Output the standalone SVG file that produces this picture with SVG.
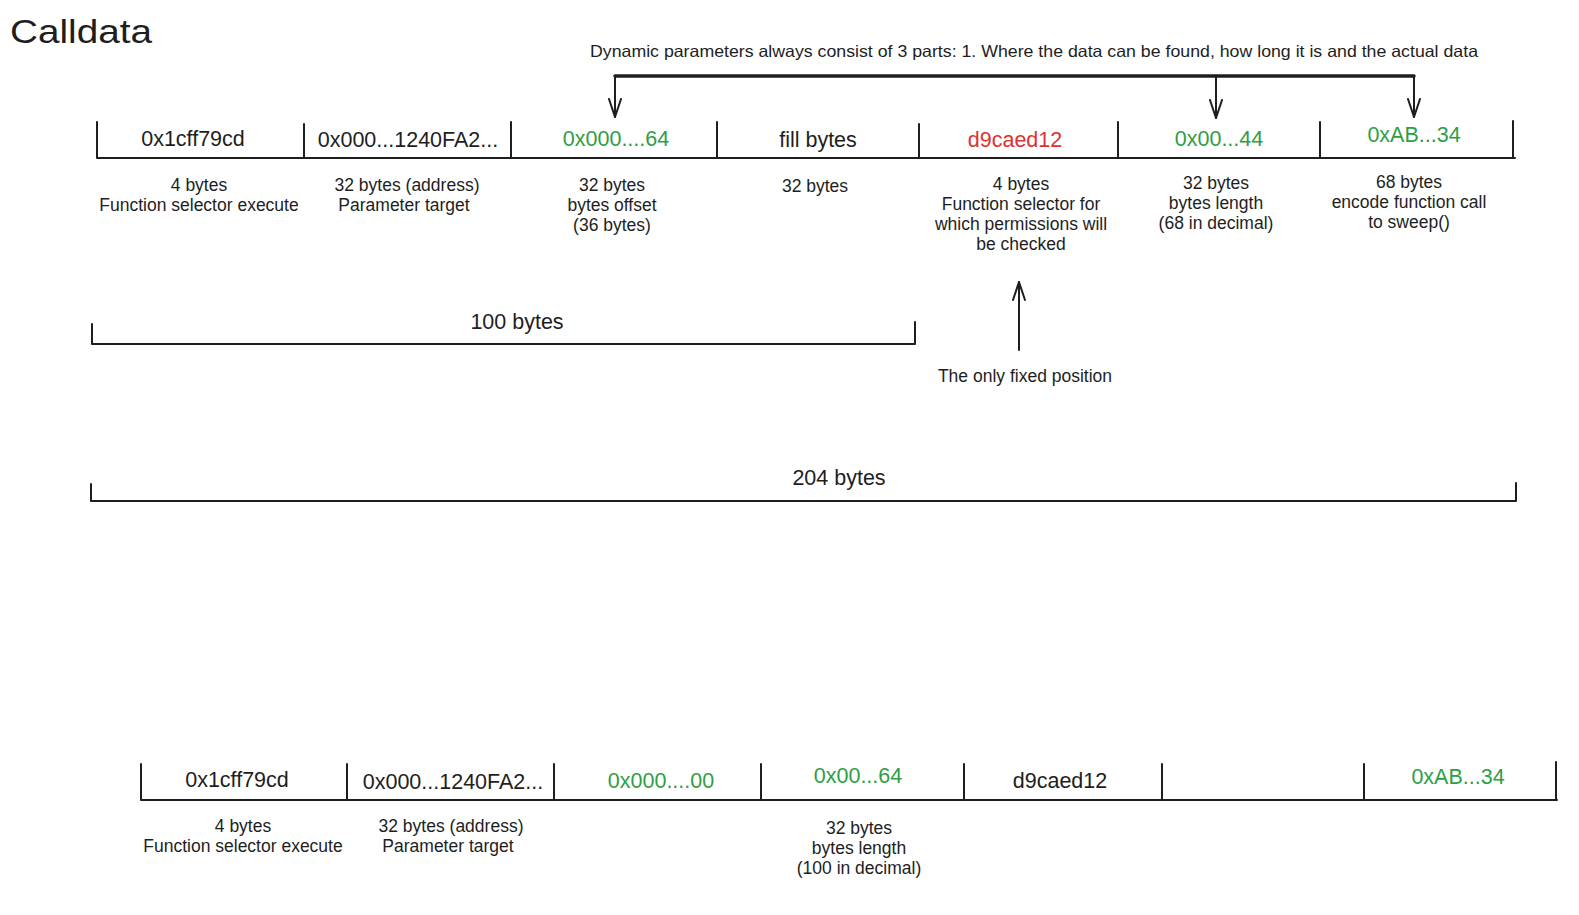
<svg xmlns="http://www.w3.org/2000/svg" width="1579" height="915" viewBox="0 0 1579 915">
<defs>
<style>
text{font-family:"Liberation Sans","DejaVu Sans",sans-serif;fill:#1e1e1e;text-anchor:middle}
.cell{font-size:21.5px}
.lbl{font-size:17.5px}
.g{fill:#2f9e44}
.r{fill:#e03131}
.ln{stroke:#1e1e1e;stroke-width:2;fill:none;stroke-linecap:round;stroke-linejoin:round}
.thick{stroke-width:3.5}
</style>
<marker id="ah" viewBox="0 0 20 20" refX="19" refY="10" markerWidth="20" markerHeight="20" markerUnits="userSpaceOnUse" orient="auto">
<path d="M1 4 L19 10 L1 16" fill="none" stroke="#1e1e1e" stroke-width="2" stroke-linecap="round" stroke-linejoin="round"/>
</marker>
</defs>
<rect width="1579" height="915" fill="#ffffff"/>
<text x="10" y="43" style="font-size:34px;text-anchor:start" textLength="142" lengthAdjust="spacingAndGlyphs">Calldata</text>

<g id="note-dynamic">
<text x="1034" y="57" style="font-size:16.5px" textLength="888" lengthAdjust="spacingAndGlyphs">Dynamic parameters always consist of 3 parts: 1. Where the data can be found, how long it is and the actual data</text>
</g>

<g id="row1">
<path class="ln" d="M97 122 V158 H1515 M304 124 V158 M511 122 V158 M717 122 V158 M919 124 V158 M1118 122 V158 M1320 122 V158 M1513 121 V158"/>
</g>
<g id="r1c1"><text class="cell" x="193" y="146">0x1cff79cd</text>
<text class="lbl" x="199" y="191">4 bytes</text><text class="lbl" x="199" y="211">Function selector execute</text></g>
<g id="r1c2"><text class="cell" x="408" y="147">0x000...1240FA2...</text>
<text class="lbl" x="407" y="191">32 bytes (address)</text><text class="lbl" x="404" y="211">Parameter target</text></g>
<g id="r1c3"><text class="cell g" x="616" y="146">0x000....64</text>
<text class="lbl" x="612" y="191">32 bytes</text><text class="lbl" x="612" y="211">bytes offset</text><text class="lbl" x="612" y="231">(36 bytes)</text></g>
<g id="r1c4"><text class="cell" x="818" y="147">fill bytes</text>
<text class="lbl" x="815" y="192">32 bytes</text></g>
<g id="r1c5"><text class="cell r" x="1015" y="147">d9caed12</text>
<text class="lbl" x="1021" y="190">4 bytes</text><text class="lbl" x="1021" y="210">Function selector for</text><text class="lbl" x="1021" y="230">which permissions will</text><text class="lbl" x="1021" y="250">be checked</text></g>
<g id="r1c6"><text class="cell g" x="1219" y="146">0x00...44</text>
<text class="lbl" x="1216" y="189">32 bytes</text><text class="lbl" x="1216" y="209">bytes length</text><text class="lbl" x="1216" y="229">(68 in decimal)</text></g>
<g id="r1c7"><text class="cell g" x="1414" y="142">0xAB...34</text>
<text class="lbl" x="1409" y="188">68 bytes</text><text class="lbl" x="1409" y="208">encode function call</text><text class="lbl" x="1409" y="228">to sweep()</text></g>

<g id="bracket-100"><path class="ln" d="M92 324 V344 H915 V322"/><text class="cell" x="517" y="329">100 bytes</text></g>
<g id="bracket-204"><path class="ln" d="M91 484 V501 H1516 V483"/><text class="cell" x="839" y="485">204 bytes</text></g>
<g id="note-fixed"><text class="lbl" x="1025" y="382">The only fixed position</text></g>

<g id="connectors">
<path class="ln thick" d="M615 76 H1414"/>
<path class="ln" d="M615 76 V117" marker-end="url(#ah)"/>
<path class="ln" d="M1216 76 V118" marker-end="url(#ah)"/>
<path class="ln" d="M1414 76 V117" marker-end="url(#ah)"/>
<path class="ln" d="M1019 350 V282" marker-end="url(#ah)"/>
</g>

<g id="row2">
<path class="ln" d="M141 764 V800 H1557 M347 764 V800 M554 764 V800 M761 764 V800 M964 764 V800 M1162 764 V800 M1364 764 V800 M1556 762 V800"/>
</g>
<g id="r2c1"><text class="cell" x="237" y="787">0x1cff79cd</text>
<text class="lbl" x="243" y="832">4 bytes</text><text class="lbl" x="243" y="852">Function selector execute</text></g>
<g id="r2c2"><text class="cell" x="453" y="789">0x000...1240FA2...</text>
<text class="lbl" x="451" y="832">32 bytes (address)</text><text class="lbl" x="448" y="852">Parameter target</text></g>
<g id="r2c3"><text class="cell g" x="661" y="788">0x000....00</text></g>
<g id="r2c4"><text class="cell g" x="858" y="783">0x00...64</text>
<text class="lbl" x="859" y="834">32 bytes</text><text class="lbl" x="859" y="854">bytes length</text><text class="lbl" x="859" y="874">(100 in decimal)</text></g>
<g id="r2c5"><text class="cell" x="1060" y="788">d9caed12</text></g>
<g id="r2c7"><text class="cell g" x="1458" y="784">0xAB...34</text></g>
</svg>
